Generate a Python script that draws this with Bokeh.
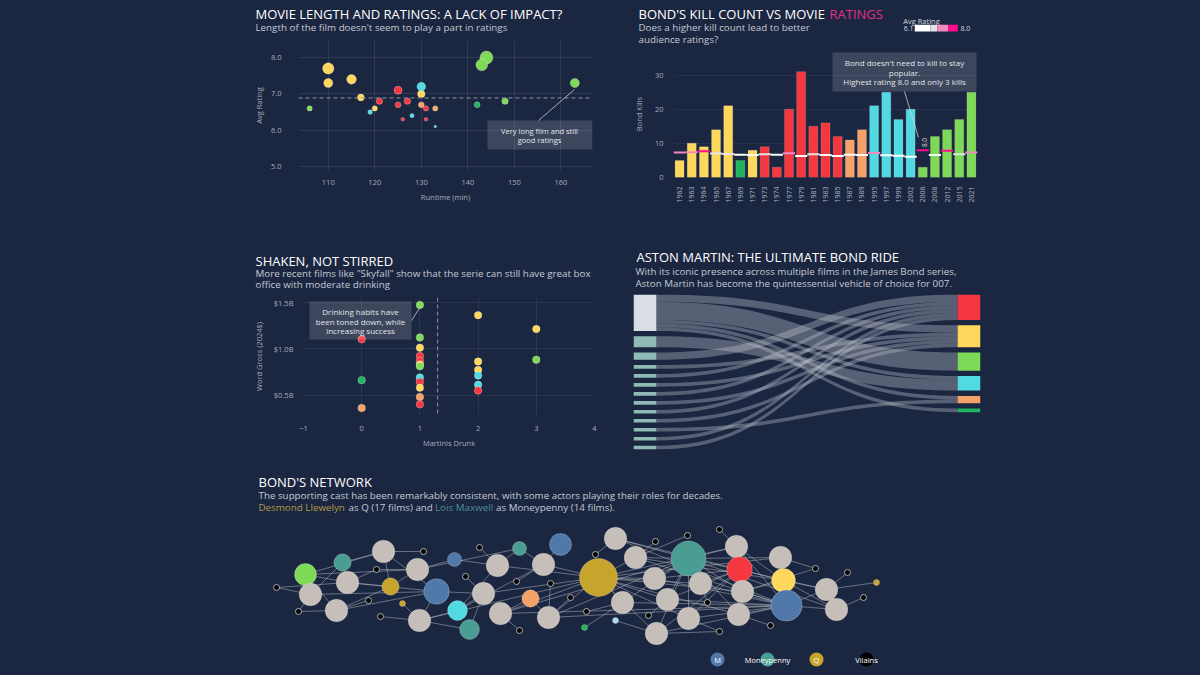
import math
import numpy as np
from bokeh.plotting import figure
from bokeh.models import (Range1d, FactorRange, FixedTicker, PrintfTickFormatter, Label,
                          BoxAnnotation, Span, Arrow, ColumnDataSource, LinearColorMapper, Spacer)
from bokeh.layouts import row, column
from bokeh.embed import file_html
from bokeh.resources import INLINE

# ---------------- DATA ----------------
years = ["1962", "1963", "1964", "1965", "1967", "1969", "1971", "1973", "1974", "1977",
         "1979", "1981", "1983", "1985", "1987", "1989", "1995", "1997", "1999", "2002",
         "2006", "2008", "2012", "2015", "2021"]
film_actor = ["Connery", "Connery", "Connery", "Connery", "Connery", "Lazenby", "Connery",
              "Moore", "Moore", "Moore", "Moore", "Moore", "Moore", "Moore",
              "Dalton", "Dalton", "Brosnan", "Brosnan", "Brosnan", "Brosnan",
              "Craig", "Craig", "Craig", "Craig", "Craig"]
runtime_min = [110, 115, 110, 130, 117, 142, 120, 121, 125, 125, 126, 127, 131, 131, 130,
               133, 130, 119, 128, 133, 144, 106, 143, 148, 163]
avg_rating = [7.3, 7.4, 7.7, 7.0, 6.9, 6.7, 6.6, 6.8, 6.7, 7.1, 6.3, 6.8, 6.6, 6.3, 6.7,
              6.6, 7.2, 6.5, 6.4, 6.1, 8.0, 6.6, 7.8, 6.8, 7.3]
bond_kills = [5, 10, 9, 14, 21, 5, 8, 9, 3, 20, 31, 15, 16, 12, 11, 14, 21, 25, 17, 20,
              3, 12, 14, 17, 25]

martinis = [0, 0, 0,
            1, 1, 1, 1, 1, 1, 1, 1, 1, 1, 1, 1,
            2, 2, 2, 2, 2, 2,
            3, 3]
world_gross_b = [1.10, 0.66, 0.36,
                 1.47, 1.12, 1.01, 0.92, 0.87, 0.83, 0.81, 0.69, 0.64, 0.58, 0.48, 0.40,
                 1.36, 0.86, 0.77, 0.71, 0.61, 0.55,
                 1.21, 0.88]
martini_actor = ["Moore", "Lazenby", "Dalton",
                 "Craig", "Craig", "Connery", "Moore", "Moore", "Connery", "Craig", "Brosnan",
                 "Moore", "Connery", "Dalton", "Moore",
                 "Connery", "Connery", "Connery", "Brosnan", "Brosnan", "Moore",
                 "Connery", "Craig"]

car_order = ["Aston Martin", "BMW", "Lotus", "Sunbeam", "AMC", "Bentley", "Chevrolet",
             "Toyota", "Rolls-Royce", "Ford", "Lincoln", "Mercedes", "Citroën"]
actor_order = ["Moore", "Connery", "Craig", "Brosnan", "Dalton", "Lazenby"]
car_src = ["Aston Martin", "Aston Martin", "Aston Martin", "Aston Martin", "Aston Martin",
           "BMW", "Lotus", "Sunbeam", "AMC", "Bentley", "Chevrolet", "Toyota",
           "Rolls-Royce", "Ford", "Lincoln", "Mercedes", "Citroën"]
car_dst = ["Connery", "Craig", "Brosnan", "Dalton", "Lazenby",
           "Brosnan", "Moore", "Connery", "Moore", "Connery", "Moore", "Connery",
           "Moore", "Connery", "Dalton", "Moore", "Moore"]
car_films = [2, 5, 1, 1, 1, 3, 2, 1, 1, 1, 1, 1, 1, 1, 1, 1, 1]

node_x = [55, 92, 133, 173, 126, 97, 140, 167, 204, 26, 60, 118, 48, 86, 152, 186, 130, 169,
          207, 219, 229, 269, 247, 215, 233, 266, 293, 310, 300, 280, 250, 320, 298, 269,
          365, 405, 385, 345, 348, 404, 437, 438, 372, 417, 450, 336, 398, 334, 365, 406,
          438, 457, 469, 469, 486, 489, 492, 488, 520, 530, 533, 536, 565, 576, 586, 597,
          613, 626]
node_y = [93, 105, 116, 116, 98, 85, 81, 98, 108, 80, 73, 67, 56, 57, 64, 76, 51, 47,
          57, 38, 120, 119, 102, 91, 74, 86, 103, 123, 84, 69, 54, 70, 50, 37,
          129, 126, 110, 113, 90, 89, 132, 109, 65, 68, 84, 56, 52, 40, 47, 34,
          49, 65, 36, 138, 121, 98, 76, 53, 42, 110, 87, 62, 99, 78, 58, 95, 70, 85]
node_group = ["Craig", "Moneypenny", "film", "villain", "villain", "film", "Q", "film", "M",
              "villain", "film", "villain", "villain", "film", "Q", "M", "villain", "film",
              "Brosnan", "Moneypenny", "villain", "Moneypenny", "film", "villain", "film",
              "villain", "film", "M", "villain", "Dalton", "film", "villain", "film", "villain",
              "film", "villain", "film", "villain", "Q", "film", "villain", "Moneypenny",
              "film", "film", "film", "villain", "villain", "Lazenby", "other", "film",
              "film", "villain", "villain", "villain", "film", "Moore", "film", "film",
              "villain", "film", "Connery", "M", "villain", "film", "film", "villain",
              "villain", "Q"]
node_films = [5, 3, 1, 1, 1, 1, 3, 1, 2, 1, 1, 1, 1, 1, 1, 7, 1, 1, 4, 4, 1, 2, 1, 1, 1, 1,
              1, 5, 1, 3, 1, 1, 1, 1, 1, 1, 1, 1, 17, 1, 1, 14, 1, 1, 1, 1, 1, 1, 1, 1, 1,
              1, 1, 1, 1, 7, 1, 1, 1, 1, 6, 11, 1, 1, 1, 1, 1, 1]
film_cast = [(2, [0, 1, 15, 6, 3]), (5, [0, 1, 15, 6, 4, 9]), (7, [0, 8, 6, 4, 21]),
             (10, [0, 1, 9, 12, 15]), (13, [0, 11, 12, 15, 6]), (17, [18, 15, 19, 16, 38, 14]),
             (22, [18, 8, 21, 20, 38]), (24, [18, 15, 19, 23, 38]), (26, [18, 27, 21, 25, 38]),
             (30, [29, 61, 41, 33, 38]), (32, [29, 61, 41, 31, 38, 28]), (34, [60, 61, 41, 37]),
             (36, [60, 61, 41, 35, 38, 40]), (39, [55, 61, 41, 38]), (42, [47, 61, 41, 38, 45]),
             (43, [55, 61, 41, 38, 46]), (44, [55, 61, 41, 38, 51]),
             (49, [55, 61, 41, 38, 52, 48]), (50, [55, 61, 41, 38, 52]),
             (54, [60, 61, 41, 53, 38]), (56, [60, 61, 41, 38, 62]), (57, [55, 61, 41, 38, 58]),
             (59, [60, 61, 41, 38, 62]), (63, [60, 61, 41, 65, 67]), (64, [60, 61, 41, 66])]
legend_names = ["M", "Moneypenny", "Q", "Vilains"]

# ---------------- STYLE ----------------
BG = "#1b2641"
FONT = "Open Sans"
TICK = "#a9afbd"
SUB = "#c5c9d2"
NOTE = "#e3e5ea"
ACTOR_COLORS = {"Connery": "#FDD85D", "Lazenby": "#22B35F", "Moore": "#F5383F",
                "Dalton": "#F5A268", "Brosnan": "#52DAE3", "Craig": "#7ED957"}
NET_COLORS = dict(ACTOR_COLORS, film="#c6beb9", villain="#000000", M="#5079a9",
                  Moneypenny="#4a9d93", Q="#c7a52d", other="#a9d5ee")
RATING_PALETTE = ["#ffffff"] * 7 + ["#e4e4e4"] * 3 + ["#f28ac2"] * 6 + ["#ff0d8c"] * 4
SUBSIZE = 9.8


def make_fig(w, h, origin, frame, xr, yr, axes=True):
    ox, oy = origin
    fl, ft, fr_, fb = frame
    kw = dict(width=w, height=h, x_range=xr, y_range=yr, toolbar_location=None, title=None,
              output_backend="svg", min_border_left=fl - ox, min_border_right=ox + w - fr_,
              min_border_top=ft - oy, min_border_bottom=oy + h - fb)
    if not axes:
        kw.update(x_axis_location=None, y_axis_location=None)
    p = figure(**kw)
    try:
        p.frame_align = False
    except Exception:
        pass
    p.background_fill_color = BG
    p.border_fill_color = BG
    p.outline_line_color = None
    for ax in p.axis:
        ax.axis_line_color = None
        ax.major_tick_line_color = None
        ax.minor_tick_line_color = None
        ax.major_label_text_color = TICK
        ax.major_label_text_font = FONT
        ax.major_label_text_font_size = "7.5px"
        ax.axis_label_text_color = TICK
        ax.axis_label_text_font = FONT
        ax.axis_label_text_font_size = "7.5px"
        ax.axis_label_text_font_style = "normal"
    p.grid.grid_line_color = "white"
    p.grid.grid_line_alpha = 0.09
    if not axes:
        p.grid.visible = False
    return p


def header(w, h, origin):
    ox, oy = origin
    fr = (ox, oy, ox + w, oy + h)
    return make_fig(w, h, origin, fr, Range1d(0, 1), Range1d(0, 1), axes=False), fr


def txt(p, fr, px, py, s, size, color="#ffffff", align="left", angle=0.0):
    p.add_layout(Label(x=px - fr[0], y=fr[3] - py, x_units="screen", y_units="screen", text=s,
                       text_font=FONT, text_font_size=f"{size}px", text_color=color,
                       text_align=align, text_baseline="middle", angle=angle))


def box(p, fr, x0, y0, x1, y1, color="white", alpha=0.15):
    p.add_layout(BoxAnnotation(left=x0 - fr[0], right=x1 - fr[0], top=fr[3] - y0,
                               bottom=fr[3] - y1, left_units="screen", right_units="screen",
                               top_units="screen", bottom_units="screen", fill_color=color,
                               fill_alpha=alpha, line_color=None))


def leader(p, fr, x0, y0, x1, y1):
    p.add_layout(Arrow(end=None, x_start=x0 - fr[0], y_start=fr[3] - y0, x_end=x1 - fr[0],
                       y_end=fr[3] - y1, start_units="screen", end_units="screen",
                       line_color="#c9cdd6", line_width=0.8))


# ---------------- PANEL 1 ----------------
h1, H1 = header(350, 36, (250, 4))
txt(h1, H1, 255, 13.5, "MOVIE LENGTH AND RATINGS: A LACK OF IMPACT?", 13)
txt(h1, H1, 255, 26.5, "Length of the film doesn't seem to play a part in ratings", SUBSIZE, SUB)

F1 = (293, 40, 592, 170)
p1 = make_fig(350, 198, (250, 40), F1, Range1d(103.6, 166.8), Range1d(4.89, 8.47))
p1.xaxis.ticker = FixedTicker(ticks=[110, 120, 130, 140, 150, 160])
p1.yaxis.ticker = FixedTicker(ticks=[5, 6, 7, 8])
p1.yaxis.formatter = PrintfTickFormatter(format="%.1f")
p1.xaxis.axis_label = "Runtime (min)"
p1.yaxis.axis_label = "Avg Rating"
p1.xaxis.major_label_standoff = 3
p1.xaxis.axis_label_standoff = 4
p1.yaxis.major_label_standoff = 11
p1.yaxis.axis_label_standoff = 4
p1.add_layout(Span(location=float(np.mean(avg_rating)), dimension="width",
                   line_color="#8d93a2", line_dash="4 3", line_width=1))
src1 = ColumnDataSource(dict(x=runtime_min, y=avg_rating,
                             c=[ACTOR_COLORS[a] for a in film_actor],
                             s=[2.5 + 5.5 * (r - 6.1) for r in avg_rating]))
p1.scatter("x", "y", size="s", fill_color="c", line_color="white", line_alpha=0.35,
           line_width=0.8, source=src1)
box(p1, F1, 482, 120, 587, 149)
txt(p1, F1, 534, 130, "Very long film and still", 7.5, NOTE, "center")
txt(p1, F1, 534, 139.7, "good ratings", 7.5, NOTE, "center")
leader(p1, F1, 533, 120, 569, 89)

# ---------------- PANEL 2 ----------------
h2, H2 = header(360, 46, (630, 4))
txt(h2, H2, 638, 13.5, "BOND'S KILL COUNT VS MOVIE", 13)
txt(h2, H2, 829, 13.5, "RATINGS", 13, "#E62E86")
txt(h2, H2, 638, 26.7, "Does a higher kill count lead to better", SUBSIZE, SUB)
txt(h2, H2, 638, 39.3, "audience ratings?", SUBSIZE, SUB)
txt(h2, H2, 921, 20, "Avg Rating", 7.5, "#d5d8df", "center")
txt(h2, H2, 913, 27.7, "6.1", 7, "#d5d8df", "right")
txt(h2, H2, 960, 27.7, "8.0", 7, "#d5d8df", "left")
for (a, b, col) in [(914.3, 930, "#ffffff"), (930, 936.7, "#e4e4e4"),
                    (936.7, 947.7, "#f28ac2"), (947.7, 957.3, "#ff0d8c")]:
    box(h2, H2, a, 24.3, b, 31, col, 1.0)

F2 = (670, 50, 977, 177)
p2 = make_fig(360, 188, (630, 50), F2, FactorRange(factors=years), Range1d(0, 37.2))
p2.xgrid.visible = False
p2.ygrid.grid_line_alpha = 0.06
p2.yaxis.ticker = FixedTicker(ticks=[0, 10, 20, 30])
p2.yaxis.axis_label = "Bond Kills"
p2.yaxis.major_label_standoff = 4
p2.yaxis.axis_label_standoff = 8
p2.xaxis.major_label_orientation = math.pi / 2
p2.xaxis.major_label_text_font_size = "7px"
p2.xaxis.major_label_standoff = 3
src2 = ColumnDataSource(dict(x=years, top=bond_kills, r=avg_rating,
                             c=[ACTOR_COLORS[a] for a in film_actor]))
p2.vbar(x="x", top="top", width=0.74, fill_color="c", line_color="white", line_alpha=0.18,
        line_width=0.8, source=src2)
mapper = LinearColorMapper(palette=RATING_PALETTE, low=6.1, high=8.0)
p2.rect(x="x", y="r", width=1.0, height=2, height_units="screen",
        fill_color={"field": "r", "transform": mapper}, line_color=None, source=src2)
box(p2, F2, 829, 52, 973, 91)
txt(p2, F2, 901, 62, "Bond doesn't need to kill to stay", 8, NOTE, "center")
txt(p2, F2, 901, 71.5, "popular.", 8, NOTE, "center")
txt(p2, F2, 901, 81, "Highest rating 8.0 and only 3 kills", 8, NOTE, "center")
leader(p2, F2, 901, 91, 915, 137)
txt(p2, F2, 921, 142, "8.0", 6.5, "#d5d8df", "center", math.pi / 2)

# ---------------- PANEL 3 ----------------
h3, H3 = header(350, 59, (250, 238))
txt(h3, H3, 255, 260, "SHAKEN, NOT STIRRED", 13)
txt(h3, H3, 255, 273.3, "More recent films like \"Skyfall\" show that the serie can still have great box", SUBSIZE, SUB)
txt(h3, H3, 255, 284.3, "office with moderate drinking", SUBSIZE, SUB)

F3 = (297, 297, 594, 415)
p3 = make_fig(350, 161, (250, 297), F3, Range1d(-1, 4), Range1d(0.28, 1.55))
p3.grid.grid_line_alpha = 0.07
p3.xaxis.ticker = FixedTicker(ticks=[-1, 0, 1, 2, 3, 4])
p3.yaxis.ticker = FixedTicker(ticks=[0.5, 1.0, 1.5])
p3.yaxis.formatter = PrintfTickFormatter(format="$%.1fB")
p3.xaxis.axis_label = "Martinis Drunk"
p3.yaxis.axis_label = "Word Gross (2024$)"
p3.xaxis.major_label_standoff = 4
p3.xaxis.axis_label_standoff = 4
p3.yaxis.major_label_standoff = 4
p3.yaxis.axis_label_standoff = 7
p3.add_layout(Span(location=float(np.mean(martinis)), dimension="height",
                   line_color="#8d93a2", line_dash="4 3", line_width=1))
src3 = ColumnDataSource(dict(x=martinis, y=world_gross_b,
                             c=[ACTOR_COLORS[a] for a in martini_actor]))
p3.scatter("x", "y", size=7.5, fill_color="c", line_color="white", line_alpha=0.35,
           line_width=0.8, source=src3)
box(p3, F3, 303, 301, 405, 339)
txt(p3, F3, 354, 311, "Drinking habits have", 8, NOTE, "center")
txt(p3, F3, 354, 320.7, "been toned down, while", 8, NOTE, "center")
txt(p3, F3, 354, 330.3, "increasing success", 8, NOTE, "center")
leader(p3, F3, 405, 320, 414, 306)

# ---------------- PANEL 4 (Sankey) ----------------
h4, H4 = header(360, 56, (630, 238))
txt(h4, H4, 636, 256.5, "ASTON MARTIN: THE ULTIMATE BOND RIDE", 13)
txt(h4, H4, 635, 271, "With its iconic presence across multiple films in the James Bond series,", SUBSIZE, SUB)
txt(h4, H4, 635, 282.7, "Aston Martin has become the quintessential vehicle of choice for 007.", SUBSIZE, SUB)

GAP = 1.465
NW = 0.066
links = list(zip(car_src, car_dst, car_films))
left_tot = {c: 0 for c in car_order}
right_tot = {a: 0 for a in actor_order}
for s, d, v in links:
    left_tot[s] += v
    right_tot[d] += v


def stack(order, tot):
    pos, y = {}, 0.0
    for n in order:
        pos[n] = y
        y += tot[n] + GAP
    return pos, y - GAP


lpos, ltotal = stack(car_order, left_tot)
rpos, rtotal = stack(actor_order, right_tot)
F4 = (633, 294, 980, 449)
p4 = make_fig(360, 164, (630, 294), F4, Range1d(0, 1), Range1d(ltotal, 0), axes=False)
out_cur, in_cur, out_off, in_off = dict(lpos), dict(rpos), {}, {}
for c in car_order:
    idx = sorted([i for i, l in enumerate(links) if l[0] == c],
                 key=lambda i: actor_order.index(links[i][1]))
    for i in idx:
        out_off[i] = out_cur[c]
        out_cur[c] += links[i][2]
for a in actor_order:
    idx = sorted([i for i, l in enumerate(links) if l[1] == a],
                 key=lambda i: car_order.index(links[i][0]))
    for i in idx:
        in_off[i] = in_cur[a]
        in_cur[a] += links[i][2]
t = np.linspace(0, 1, 40)
x0, x1 = NW, 1 - NW
xm = (x0 + x1) / 2
bx = (1 - t) ** 3 * x0 + 3 * (1 - t) ** 2 * t * xm + 3 * (1 - t) * t ** 2 * xm + t ** 3 * x1
hb = 3 * t ** 2 - 2 * t ** 3
rx, ry = [], []
for i, (s, d, v) in enumerate(links):
    ya, yb = out_off[i], in_off[i]
    top = ya + (yb - ya) * hb
    bot = top + v
    rx.append(list(bx) + list(bx[::-1]))
    ry.append(list(top) + list(bot[::-1]))
p4.patches(rx, ry, fill_color="#c3c7cf", fill_alpha=0.36, line_color=None)
p4.quad(left=[0] * len(car_order), right=[NW] * len(car_order),
        top=[lpos[c] for c in car_order], bottom=[lpos[c] + left_tot[c] for c in car_order],
        fill_color=["#d9dde5"] + ["#8fbab5"] * (len(car_order) - 1), line_color=None)
p4.quad(left=[1 - NW] * len(actor_order), right=[1] * len(actor_order),
        top=[rpos[a] for a in actor_order], bottom=[rpos[a] + right_tot[a] for a in actor_order],
        fill_color=[ACTOR_COLORS[a] for a in actor_order], line_color=None)

# ---------------- PANEL 5 (Network) ----------------
F5 = (250, 458, 900, 667)
p5 = make_fig(650, 209, (250, 458), F5, Range1d(0, 650), Range1d(0, 209), axes=False)
ex0, ey0, ex1, ey1 = [], [], [], []
for f, cast in film_cast:
    for c in cast:
        ex0.append(node_x[f]); ey0.append(node_y[f])
        ex1.append(node_x[c]); ey1.append(node_y[c])
p5.segment(ex0, ey0, ex1, ey1, line_color="#c9c9c9", line_alpha=0.5, line_width=0.9)
sizes = [22.6 if g == "film" else 2 * (3 + 4 * math.sqrt(n - 1))
         for g, n in zip(node_group, node_films)]
src5 = ColumnDataSource(dict(x=node_x, y=node_y, s=sizes,
                             c=[NET_COLORS[g] for g in node_group],
                             lc=["#d0d0d0" if g == "villain" else "#ffffff" for g in node_group],
                             la=[0.9 if g == "villain" else 0.25 for g in node_group]))
p5.scatter("x", "y", size="s", fill_color="c", line_color="lc", line_alpha="la",
           line_width=0.9, source=src5)
leg_x = [467, 517, 566, 616]
leg_c = [NET_COLORS["M"], NET_COLORS["Moneypenny"], NET_COLORS["Q"], NET_COLORS["villain"]]
p5.scatter(leg_x, [8] * 4, size=14, fill_color=leg_c, line_color=None)
for lx, name in zip(leg_x, legend_names):
    p5.add_layout(Label(x=lx, y=8, text=name, text_font=FONT, text_font_size="7.5px",
                        text_color="#ffffff", text_align="center", text_baseline="middle"))
txt(p5, F5, 258, 481.7, "BOND'S NETWORK", 13)
txt(p5, F5, 258, 495, "The supporting cast has been remarkably consistent, with some actors playing their roles for decades.", SUBSIZE, SUB)
txt(p5, F5, 258, 507.3, "Desmond Llewelyn", SUBSIZE, "#b39b45")
txt(p5, F5, 348, 507.3, "as Q (17 films) and", SUBSIZE, SUB)
txt(p5, F5, 434.5, 507.3, "Lois Maxwell", SUBSIZE, "#4a8f95")
txt(p5, F5, 495.5, 507.3, "as Moneypenny (14 films).", SUBSIZE, SUB)

# ---------------- LAYOUT ----------------
layout = column(
    Spacer(width=10, height=4),
    row(Spacer(width=250, height=234), column(h1, p1), Spacer(width=30, height=234),
        column(h2, p2)),
    row(Spacer(width=250, height=220), column(h3, p3), Spacer(width=30, height=220),
        column(h4, p4)),
    row(Spacer(width=250, height=209), p5),
)
html = file_html(layout, INLINE, title="James Bond")
css = "<style>html, body { background-color: #1b2641 !important; }</style>"
if "</head>" in html:
    html = html.replace("</head>", css + "\n</head>", 1)
else:
    html = css + html
open("out.html", "w").write(html)
